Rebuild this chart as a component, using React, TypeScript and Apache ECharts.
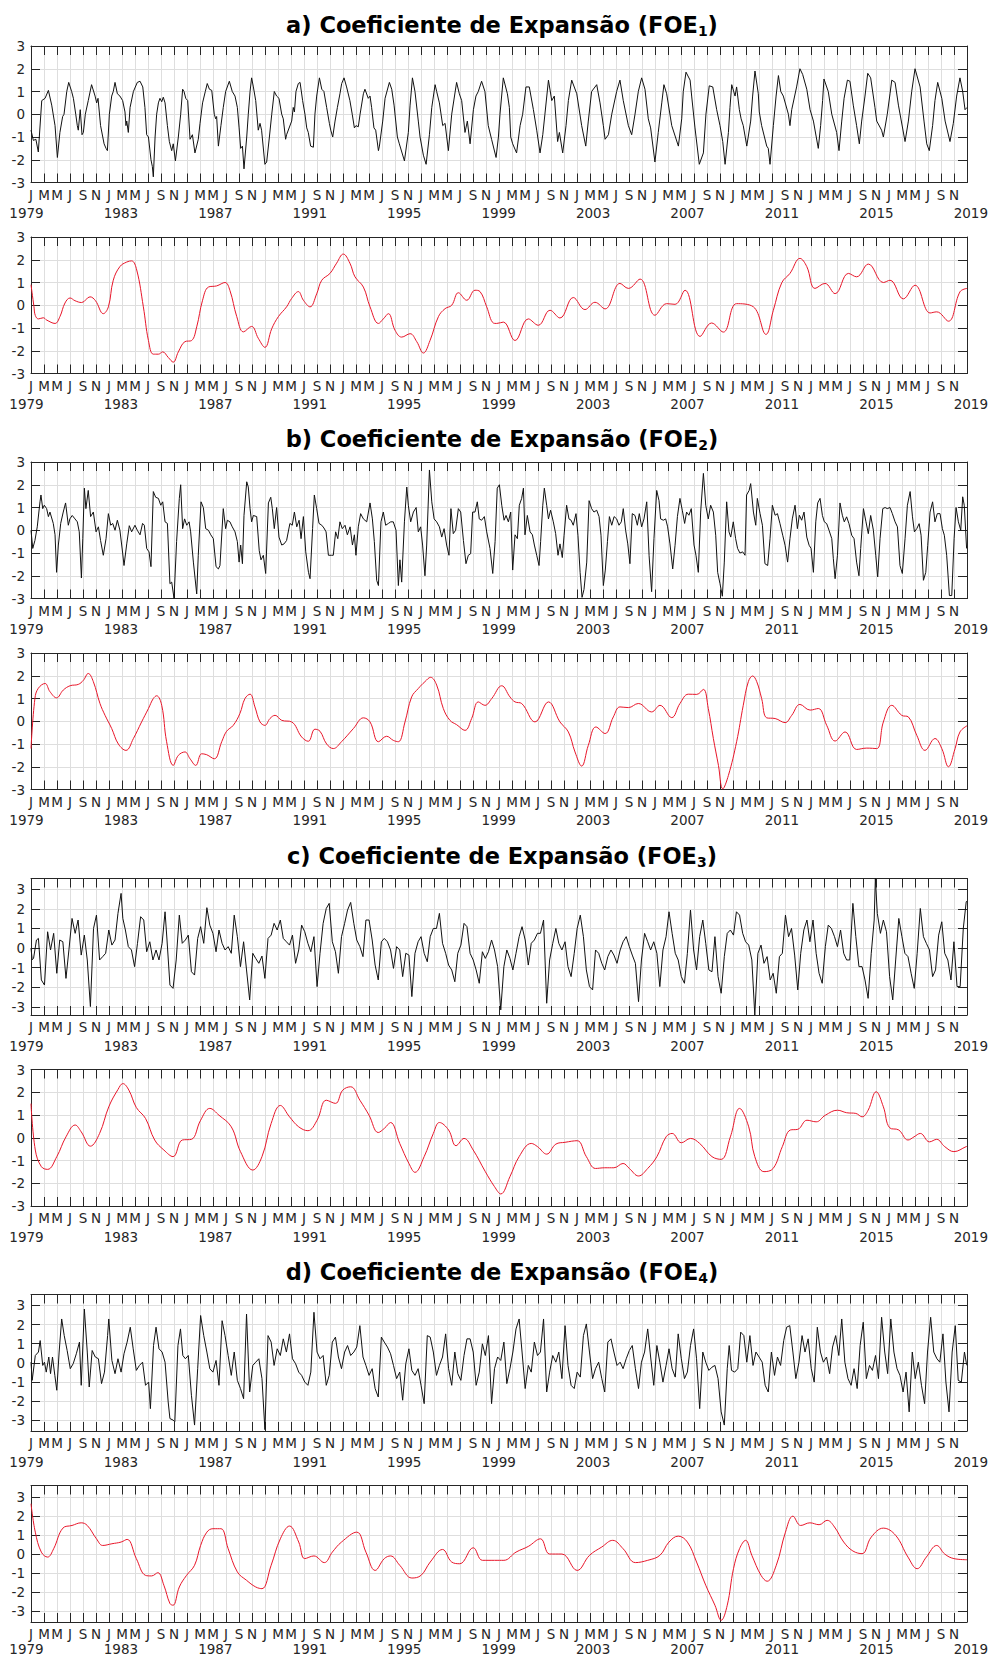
import React, { useEffect, useRef } from "react";
import * as echarts from "echarts";

// ---------- axis texts ----------
const monthLetters = ["J", "M", "M", "J", "S", "N"];
const firstYear = 1979;
const yearStep = 4;
const yearSpan = 40;
const nMonths = 480;
const nTickIntervals = 72;
const yTickValues = [-3, -2, -1, 0, 1, 2, 3];
const titleLetters = ["a", "b", "c", "d"];
const titleMain = "Coeficiente de Expansão (FOE";

// ---------- data: [month index since Jan 1979, value] ----------
const aBlack = [[0,-0.7],[1.2,-1.15],[2.5,-1.1],[3.75,-1.66],[5.5,0.6],[7.2,0.7],[8.9,1.05],[10.6,0.4],[12.3,-0.5],[13.5,-1.9],[14.8,-0.8],[16.2,-0.1],[16.9,0],[18.3,1.0],[19.3,1.4],[20.8,1.0],[21.7,0.7],[22.9,0],[23.7,-0.5],[24.2,-0.7],[25.2,0.2],[26.1,-0.9],[26.8,-0.8],[27.8,0],[29.3,0.6],[31,1.3],[32.8,0.8],[33.6,0.5],[34.3,0.7],[35.6,-0.5],[37.4,-1.3],[38.4,-1.5],[39.1,-1.6],[40.1,0],[41.3,0.8],[42.1,1.0],[43,1.4],[44.2,0.9],[45.5,0.8],[46.9,0.6],[48.1,0.1],[48.6,-0.5],[49,-0.3],[49.8,-0.8],[50.7,0.3],[52.4,1.0],[54.4,1.4],[55.8,1.45],[57.2,1.2],[58.3,0.3],[59.2,-0.9],[60.1,-1.0],[61.4,-2.0],[62.1,-2.3],[62.6,-2.75],[63.5,-1.0],[64.3,0],[65.2,0.5],[66,0.7],[66.9,0.55],[67.7,0.75],[68.6,0.5],[69.8,-0.5],[70.8,-1.2],[72,-1.6],[72.8,-1.3],[73.9,-2.05],[75.4,-1.0],[76.6,0],[77.6,1.1],[78.3,1.0],[79.2,0.7],[80.2,0.6],[81.4,-1.1],[82.6,-0.9],[83.9,-1.7],[85.6,-1.1],[86.5,-0.4],[87.8,0.5],[89.2,1.0],[90.2,1.35],[91.3,1.1],[92.5,1.05],[93.8,0],[94.5,-0.2],[95,-0.1],[95.9,-1.4],[97.2,-0.5],[98.4,0.3],[99.6,1.0],[101.5,1.45],[103,1.0],[104.4,0.8],[105.6,0.3],[106.5,-0.6],[107.3,-1.5],[108.2,-1.4],[109,-2.4],[110.4,-1.0],[111.2,0],[112.1,1.0],[112.9,1.6],[113.8,1.2],[115,0.6],[116.3,-0.7],[117.2,-0.4],[118,-0.7],[119.7,-2.2],[120.6,-2.1],[122,-1.0],[123.2,0],[124.5,1.0],[125.7,0.8],[126.9,0.7],[128.3,0],[129.1,-0.2],[130.3,-1.1],[130.8,-0.9],[133.4,-0.3],[134.2,0.3],[134.8,0.1],[135.6,1.0],[136.8,1.35],[137.7,1.4],[139,0.6],[140.2,0],[141.1,-0.6],[141.9,-0.8],[143.1,-1.4],[144.5,-1.45],[145.3,0],[146.2,0.8],[147.6,1.6],[148.8,1.1],[149.9,1.0],[151.3,0.3],[152.7,-0.4],[153.4,-0.7],[154.4,-1.0],[155.6,-0.3],[156.8,0.3],[158.1,0.9],[159,1.35],[160.2,1.6],[161.5,1.2],[163.2,0.6],[164.4,0],[165.5,-0.6],[166.3,-0.5],[167.5,-0.55],[168.4,0],[170.1,0.9],[170.9,1.1],[172.6,0.7],[173.5,0.8],[174.3,0.3],[175.5,-0.6],[176.4,-0.7],[177.8,-1.6],[178.3,-1.4],[180,-0.3],[181.2,0.7],[183.4,1.4],[184.6,1.1],[185.8,0.4],[187.5,-1.0],[188.5,-1.3],[191.1,-2.05],[193.1,-0.8],[194,0.4],[195.2,1.6],[196.5,1.0],[198.2,-0.3],[199.1,-1.0],[200.8,-1.8],[202.2,-2.2],[203.9,-0.9],[205.1,0.3],[206.8,1.3],[207.6,1.0],[209,0.5],[210.7,-0.5],[211.9,-0.4],[213.6,-1.6],[215.3,0],[217.8,1.4],[219.2,0.9],[220.4,0.6],[222.1,-0.8],[223.3,-0.3],[224.7,-1.3],[226.4,0.2],[227.7,0.8],[228.9,1.0],[230.6,1.45],[232.3,1.0],[234,-0.5],[235.7,-1.1],[238,-1.9],[239.2,-1.0],[240,0],[241.7,1.6],[243.8,0.9],[244.8,0.3],[245.5,-1.0],[246.5,-1.3],[248.5,-1.7],[250.3,-0.5],[251.6,0],[253.3,1.2],[255,1.2],[257.1,0.2],[258.8,-0.7],[260.5,-1.7],[261.9,-0.9],[263,0],[264.8,1.5],[266.5,0.6],[267.8,0.8],[269.5,-1.2],[270.4,-0.8],[272.1,-1.7],[273.8,-0.5],[275,0.6],[276.7,1.5],[279.3,0.9],[281.8,-0.5],[283.9,-1.4],[285.2,-0.3],[286.9,1.0],[289.5,1.3],[291.2,0.5],[292.9,-0.5],[293.8,-1.1],[295.5,-0.9],[297.2,0],[299.7,1.0],[301.4,1.5],[303.1,0.6],[305.7,-0.5],[307.4,-0.9],[309.1,0],[310.8,1.0],[312.5,1.6],[314.2,1.1],[315.9,-0.2],[317.1,-0.6],[319.3,-2.1],[321,-0.8],[322.8,0.5],[323.9,1.3],[325.3,0.9],[327.9,-0.5],[331.3,-1.4],[333,-0.2],[333.8,1.0],[335.2,1.85],[337.3,1.5],[338.1,0.8],[339.8,-0.6],[342,-2.2],[344.1,-1.7],[345.4,0],[347.1,1.25],[348.9,1.2],[350.9,0.2],[352.6,-0.5],[354,-1.2],[355.2,-2.2],[356.9,-0.8],[357.7,0.3],[358.6,1.3],[360.3,0.8],[361.1,1.2],[362.5,0.2],[363.4,-0.2],[364.5,-0.5],[366.3,-1.4],[368.3,-0.3],[369.3,0.8],[370.5,1.9],[372.2,0.9],[372.7,0.1],[373.9,-0.5],[376.5,-1.4],[377.3,-1.5],[378.2,-2.2],[379.9,-0.5],[381.3,0.8],[382.5,1.7],[383.7,1.0],[385,0.8],[387.6,0],[388.4,-0.5],[389.3,0.2],[391.8,1.2],[393.5,2.0],[394.9,1.75],[397,1.1],[398.7,0.2],[400.4,-0.3],[402.9,-1.5],[404.1,-0.5],[405.1,0.6],[405.8,1.55],[408,1.0],[409.8,0],[412.3,-0.8],[413.5,-1.6],[414.9,-0.3],[416.1,0.7],[417.8,1.5],[419.1,1.45],[420.8,0.4],[422.5,-0.5],[423.9,-1.3],[425.1,-0.3],[426.8,0.8],[428.2,1.8],[429.7,1.6],[431.9,0.3],[432.8,-0.3],[435.3,-0.7],[436.2,-1.0],[438.2,0],[439.6,0.9],[440.5,1.5],[442.2,1.4],[443.9,0.4],[447.3,-1.2],[449,-0.3],[450.7,1.0],[452.4,2.0],[455,1.2],[457,-0.3],[458.4,-1.3],[459.7,-1.6],[461.4,-0.5],[462.6,0.6],[464,1.4],[466.1,0.7],[467.8,-0.3],[470.3,-1.2],[472,-0.4],[473.7,0.8],[475.4,1.6],[476.8,1.0],[478,0.2],[479,0.3]];

const aRed = [[0,0.9],[1.5,-0.05],[2.2,-0.45],[3.8,-0.6],[6.3,-0.55],[8,-0.65],[12.3,-0.8],[14.8,-0.5],[17.4,0.1],[20,0.32],[22.5,0.2],[25.9,0.12],[30.2,0.37],[33,0.2],[37,-0.37],[39.6,-0.07],[42.1,1.1],[45.5,1.7],[49,1.9],[51.5,1.95],[54.1,1.55],[57.5,-0.07],[60.1,-1.55],[62.6,-2.15],[65.2,-2.15],[67.4,-2.05],[70.3,-2.3],[72.8,-2.5],[75.4,-2.05],[78.8,-1.6],[82.2,-1.55],[84.8,-0.95],[87.8,0.22],[90.8,0.8],[95,0.85],[99.3,1.0],[101.8,0.65],[105.3,-0.5],[108.7,-1.17],[112.9,-0.93],[116.3,-1.45],[119.7,-1.85],[123.2,-1.03],[126.6,-0.5],[130.8,-0.07],[133.4,0.3],[136.8,0.6],[139.4,0.22],[142.8,-0.07],[146.2,0.5],[148.8,1.1],[153,1.4],[156.4,1.85],[159.8,2.25],[163.2,1.85],[165.8,1.25],[170.1,0.8],[173.5,-0.07],[177.8,-0.8],[180.3,-0.6],[182.9,-0.37],[186.3,-1.1],[189.7,-1.4],[194,-1.25],[197.4,-1.6],[200.8,-2.1],[204.2,-1.55],[208.5,-0.5],[211.9,-0.15],[215.3,0],[218.7,0.55],[223,0.22],[227.2,0.66],[229.8,0.6],[233.2,-0.07],[236.6,-0.78],[238.3,-0.8],[241.7,-0.74],[247.7,-1.55],[254.5,-0.6],[259.6,-0.88],[265.6,-0.22],[270.7,-0.56],[277.5,0.34],[283.5,-0.19],[288.6,0.13],[293.8,-0.16],[301.4,0.96],[305.7,0.74],[311.7,1.15],[319.3,-0.44],[325.3,0.07],[329.6,0.04],[334.7,0.66],[342.4,-1.37],[348.3,-0.78],[354.3,-1.18],[361.1,0.07],[369.7,-0.07],[376.1,-1.28],[379.9,-0.22],[384.2,0.99],[388.4,1.4],[393.5,2.06],[397,1.7],[401.2,0.74],[406.3,0.96],[411.5,0.51],[418.3,1.4],[422.5,1.25],[428.5,1.81],[436.2,1.0],[439.6,1.1],[446.4,0.28],[452.4,0.88],[460.1,-0.34],[463.5,-0.29],[469.5,-0.7],[475.4,0.59],[479,0.74]];

const bBlack = [[0,0],[0.9,-0.8],[2,-0.45],[3.2,0.15],[4.6,1.25],[5.1,1.55],[6,0.95],[6.8,1.1],[8,0.95],[8.9,0.6],[9.7,0.8],[11.4,0.3],[12.3,-0.2],[13.1,-1.85],[14,-0.65],[15.2,0.3],[16.5,0.8],[17.7,1.2],[19.1,0.22],[19.9,0.5],[21.1,0.65],[22.5,0.5],[23.7,0.37],[24.7,-0.07],[25.8,-2.1],[26.5,-0.37],[27.3,1.85],[28.1,0.95],[29.3,1.75],[30.5,0.6],[31.9,0.8],[33.3,-0.07],[34.5,0.15],[35.6,-0.45],[37,-1.1],[38.4,-0.37],[39.6,0.73],[40.8,0.22],[41.8,0.3],[43,0],[44.2,0.44],[45.5,0],[46.9,-1.0],[47.6,-1.55],[49,-0.6],[50.3,0.2],[51.5,-0.07],[53.2,0.22],[54.4,0],[55.8,-0.2],[57.1,0.3],[58,0.22],[59.2,-0.8],[60.4,-0.95],[61.4,-1.6],[62.6,1.7],[63.8,1.45],[65.2,1.4],[66.4,1.1],[67.4,1.25],[68.6,0.37],[69.8,0.3],[71.1,-2.35],[72,-2.28],[73.2,-3.0],[74.5,-0.5],[75.9,1.4],[76.6,2.0],[77.6,0.07],[78.6,0.5],[79.7,0.22],[80.9,0.37],[81.7,-0.07],[83.1,-1.4],[84.8,-2.8],[85.6,-1.1],[87,1.25],[88.2,1.0],[89.4,0.07],[90.8,0],[92,-0.2],[93.3,-0.37],[94.7,-1.6],[95.9,-1.7],[96.7,-1.55],[98.4,0.95],[99.6,0.07],[100.5,0.44],[101.8,0.37],[103,0.15],[104.4,-0.07],[105.6,-0.5],[106.5,-1.4],[107.3,-0.65],[108.2,-1.47],[109,0.65],[110.4,2.13],[111.2,1.9],[112.1,0.95],[112.9,0.37],[113.8,0.65],[115.5,0.6],[116.8,-0.9],[117.7,-1.3],[118.9,-1.1],[120.1,-1.9],[121.5,1.2],[122.7,1.45],[123.5,0.95],[124.5,0.07],[125.7,1.0],[126.9,-0.3],[128.3,-0.65],[129.5,-0.6],[130.8,-0.45],[132.5,0.3],[133.7,0.22],[134.8,0.8],[136,0.15],[137.2,0.44],[138.2,-0.37],[139.4,0.6],[140.6,-0.95],[142,-1.85],[142.8,-2.13],[144.1,0.07],[145,1.55],[146.2,0.95],[147.4,0.3],[148.8,0.22],[149.9,0.1],[151,-0.07],[152.2,-1.1],[153.9,-1.1],[154.7,-1.1],[155.9,-0.07],[157,-0.37],[158.1,0.37],[159.3,0.07],[160.7,0.22],[161.9,-0.2],[163.3,0.15],[164.5,-0.65],[165.5,-0.2],[166.3,-1.1],[167.5,0.15],[168.7,0.73],[170.1,0.5],[171.8,0.37],[173.5,1.2],[174.7,0.5],[175.7,-0.5],[176.9,-2.2],[177.8,-2.43],[179.1,0.37],[180.3,0.8],[181.5,0.22],[182.9,0.3],[184.1,0.37],[185.4,0.37],[186.8,0],[188,-2.43],[188.8,-1.3],[189.7,-2.28],[191.1,0.37],[192.3,1.9],[193.1,1.1],[194.3,0.37],[195.7,0.8],[197.1,1.0],[198.2,-0.07],[199.4,0.15],[200.4,-0.65],[201.6,-2.0],[202.5,-0.65],[203.9,2.65],[205.1,1.25],[206.3,0.5],[207.6,0.37],[209,0.15],[210.2,-0.3],[211.4,0.07],[212.7,-0.65],[213.9,-1.1],[214.9,0.95],[216.1,-0.15],[217.3,0],[218.7,0.95],[219.9,0.8],[221.3,-0.45],[222.6,-1.47],[223.8,-1.1],[225,-1.03],[226,0.8],[227.2,0.8],[228.4,1.25],[229.4,0.5],[230.6,0.44],[232,0.6],[233.2,-0.07],[234.9,-0.8],[236.3,-1.9],[237.5,-0.5],[238.6,1.85],[239.7,2.0],[240.9,1.1],[242.1,0.44],[243.1,0.65],[244.3,0.37],[245.5,0.8],[246.5,-1.75],[247.7,-0.2],[248.9,-0.37],[249.9,1.1],[251.1,1.4],[252,1.85],[252.8,-0.2],[254,0.65],[255.4,-0.07],[256.6,-0.2],[257.6,-0.65],[258.8,-1.1],[260,-1.55],[260.8,-0.5],[261.9,1.1],[262.7,1.85],[263.9,1.1],[264.8,0.5],[265.9,0.88],[267.3,0.37],[268.5,-0.15],[269.7,-1.1],[270.7,-0.6],[271.9,-1.2],[272.8,-0.22],[274.1,1.1],[275.3,0.5],[276.4,0.44],[277.5,0.22],[278.9,0.73],[279.9,-0.22],[281,-1.85],[282,-2.95],[283,-2.6],[284.4,-1.4],[285.6,1.3],[286.9,0.95],[288.1,0.8],[289.5,0.88],[290.7,0.6],[291.7,-0.22],[292.9,-2.43],[293.9,-1.75],[295,-0.5],[296,0.6],[297.2,0.22],[298.4,0.6],[299.7,0.5],[300.9,0.22],[302.1,0.37],[303.1,0.95],[304.3,0],[305.4,-0.6],[306.5,-1.47],[307.7,0.73],[309.1,0.65],[310.3,0.22],[311.3,0.73],[312.5,0.15],[313.7,0.5],[315.1,1.25],[316.3,-1.1],[317.6,-2.7],[318.8,-0.37],[320.2,1.75],[321.4,1.3],[322.2,0.5],[323.6,0.44],[324.8,0.5],[325.8,0.15],[327,-0.6],[328.4,-1.7],[329.6,-0.66],[330.8,0.6],[332.1,1.4],[333.3,0.88],[334.5,0.3],[335.5,0.8],[336.7,0.66],[337.9,0.95],[339.3,-0.65],[340.3,-1.1],[341.5,-1.85],[342.7,0.8],[344.1,2.5],[345.3,1.1],[346.6,0.5],[347.8,1.1],[349.2,0.8],[350.4,-0.22],[351.4,-1.85],[352.6,-2.35],[353.8,-2.9],[354.8,-1.4],[356,1.25],[357.2,-0.07],[358.1,-0.3],[359.4,0.37],[360.6,-0.37],[361.6,-0.8],[362.8,-1.0],[364.2,-0.95],[365.4,-1.1],[366.2,1.55],[367.5,1.75],[368.3,2.05],[369.7,0.8],[370.9,0.22],[371.7,1.4],[373.1,0.73],[374.3,0.22],[375.6,-1.47],[377,-1.55],[378.2,-0.37],[379.4,1.1],[380.8,0.66],[382,0.73],[383.3,0.29],[384.7,-0.22],[385.9,-0.66],[387.2,-1.4],[388.4,-0.37],[389.6,0.5],[391,1.1],[392.2,0.07],[393.2,0.66],[394.4,0.44],[395.6,0.8],[397,-0.3],[398.2,-0.66],[399.2,-0.8],[400.4,-1.85],[401.6,0.37],[402.6,1.2],[403.8,1.4],[405,0.65],[406,0.37],[407.2,0.29],[408.4,0],[409.8,-0.37],[410.6,-1.25],[411.5,-2.13],[412.7,-1.1],[414,1.2],[415.2,0.66],[416.2,0.37],[417.4,0.59],[418.6,0.29],[420,-0.22],[421.2,-0.37],[422.5,-1.4],[423.7,-2.0],[424.6,-0.8],[426,0.95],[427.3,0.37],[428.5,-0.15],[429.7,0.65],[431.1,0],[432.3,-1.1],[433.3,-2.05],[434.5,-0.37],[435.9,0.95],[437.1,1.0],[438.2,0.95],[439.6,1.0],[440.8,0.73],[442.2,0.37],[443.4,0.15],[444.7,-1.55],[445.9,-1.9],[447.3,-0.37],[448.5,1.1],[449.9,1.7],[451.1,0.59],[452.1,-0.07],[453.3,0.07],[454.5,0.29],[455.5,-0.22],[456.7,-2.2],[457.9,-1.85],[458.9,-0.66],[460.1,0.8],[461.4,1.25],[462.6,0.37],[463.8,0.73],[465.2,0.73],[466.4,0.07],[467.4,-0.22],[468.6,-1.1],[470,-2.87],[471.2,-2.87],[472.4,-0.37],[473.4,1.0],[474.6,0.37],[475.8,0],[476.8,1.47],[477.6,1.1],[478.8,-0.8]];

const bRed = [[0,-1.2],[2,1.0],[3.75,1.45],[7.2,1.66],[9.7,1.3],[13.1,1.03],[16.5,1.37],[20,1.56],[24.2,1.62],[26.8,1.8],[29.3,2.1],[31.9,1.74],[35.3,0.78],[37.9,0.26],[41.3,-0.32],[44.7,-1.0],[48.6,-1.28],[52.4,-0.76],[56.6,-0.03],[60.1,0.56],[62.6,1.0],[64.3,1.12],[66.9,0.7],[69.4,-0.9],[72.8,-1.94],[75.4,-1.5],[78.8,-1.35],[81.4,-1.65],[84.3,-1.94],[87.3,-1.43],[89.9,-1.47],[93.8,-1.65],[97.6,-0.9],[100.1,-0.44],[103.5,-0.18],[106.9,0.34],[109.5,1.0],[112.1,1.19],[114.6,0.63],[117.2,-0.03],[119.7,-0.18],[122.3,0.12],[124.9,0.26],[128.3,0.04],[133.4,-0.03],[138.5,-0.69],[141.9,-0.88],[145.3,-0.35],[147.9,-0.44],[151.3,-1.0],[154.7,-1.2],[158.9,-0.9],[165,-0.32],[170.1,0.15],[173.5,-0.03],[177.8,-0.9],[182,-0.66],[185.4,-0.84],[188,-0.9],[191.4,-0.03],[194.8,1.07],[198.2,1.44],[201.6,1.74],[204.5,1.93],[207.6,1.59],[211,0.56],[214.4,0.04],[217.8,-0.15],[222.1,-0.4],[225.5,0.12],[228.9,0.85],[232.3,0.7],[235.8,1.0],[240.9,1.56],[245.1,1.07],[247.7,0.85],[251.1,0.78],[257.9,-0.03],[264.8,0.85],[270.7,-0.03],[275,-0.47],[278.4,-1.35],[281.8,-1.97],[285.2,-1.06],[289.1,-0.25],[293.8,-0.54],[298,0.19],[301.4,0.63],[305.7,0.6],[310.8,0.78],[317.6,0.41],[321.9,0.7],[327.9,0.16],[332.1,0.78],[336.4,1.19],[340.7,1.18],[344.1,1.4],[346.6,0.56],[349.2,-0.76],[351.8,-1.94],[354,-2.97],[356.9,-2.38],[361.1,-0.9],[364.5,0.7],[367.1,1.74],[369.3,1.99],[371.4,1.74],[373.9,1.0],[376.5,0.15],[380.8,0.12],[385.9,-0.06],[389.3,0.26],[393.5,0.74],[398.7,0.49],[402.9,0.56],[407.2,-0.18],[411.5,-0.87],[416.6,-0.47],[422.5,-1.24],[427.7,-1.18],[432.8,-1.2],[436.2,-0.03],[440.5,0.7],[445.6,0.26],[449,0.19],[453.3,-0.62],[457.5,-1.28],[462.6,-0.76],[466.1,-1.2],[469.5,-2.0],[472.9,-1.2],[475.4,-0.47],[479,-0.2]];

const cBlack = [[0,0],[0.6,-0.6],[1.3,-0.53],[2.8,0.41],[3.8,0.49],[5.3,-1.63],[6.9,-1.89],[8.5,0.83],[10,-0.1],[11.6,0.75],[13.2,-1.29],[14.7,0.41],[16.3,0.32],[17.9,-1.55],[19.4,-0.1],[21,1.51],[22.6,0.75],[24.1,1.43],[25.7,-0.36],[27.3,0.66],[28.8,-0.61],[30.4,-2.99],[32,1.0],[33.5,1.68],[35.1,-0.61],[36.7,-0.44],[38.2,-0.27],[39.8,0.92],[41.4,0.15],[43,0.41],[44.5,1.77],[46.1,2.79],[47,1.51],[48.3,0.92],[49.8,0.07],[51.4,-0.1],[53,-0.95],[54.5,0.24],[56.1,1.6],[57.7,1.43],[59.2,-0.19],[60.8,0.32],[62.4,-0.61],[64,-0.1],[65.5,-0.61],[67.1,0.24],[68.6,1.85],[69.6,0.41],[71.1,-1.89],[72.7,-2.06],[74.3,-0.61],[75.9,1.68],[77.4,0.24],[79,0.41],[80.5,0.66],[82.1,-1.21],[83.7,-1.38],[85.3,0.49],[86.8,1.09],[88.4,0.24],[90,2.06],[91.5,1.17],[93.1,0.75],[94.7,-0.19],[96.2,0.92],[97.8,0.24],[99.3,-0.1],[100.9,0.07],[102.5,-0.27],[104,1.68],[105.6,0.58],[107.2,-0.95],[108.8,0.32],[110.3,-1.12],[111.9,-2.65],[113.5,-0.27],[115,-0.53],[116.6,-0.78],[118.2,-0.41],[119.7,-1.55],[121.3,0.49],[122.9,0.66],[124.4,1.26],[126,0.92],[127.6,1.43],[129.1,0.49],[130.7,0.32],[132.3,0.15],[133.8,0.66],[135.4,-0.78],[137,-0.1],[138.5,1.17],[140.1,0.83],[141.7,0.24],[143.2,-0.19],[144.8,0.58],[146.4,-1.97],[147.9,-0.27],[149.5,1.26],[151.1,2.02],[152.6,2.28],[154.2,0.32],[155.8,-0.19],[157.3,-1.29],[158.9,0.58],[160.5,1.26],[162,1.94],[163.6,2.33],[165.2,1.26],[166.7,0.41],[168.3,0.07],[169.9,-0.44],[171.4,1.43],[173,1.43],[174.6,0.41],[176.1,-0.87],[177.7,-1.63],[179.3,0.32],[180.8,0.49],[182.4,0.32],[184,-0.1],[185.5,-1.04],[187.1,0.07],[188.7,-0.1],[190.2,-1.46],[191.8,-0.27],[193.4,-0.36],[194.9,-2.48],[196.5,-0.27],[198.1,0.32],[199.6,0.58],[201.2,-0.27],[202.8,-0.7],[204.3,0.58],[205.9,1.0],[207.5,1.0],[209,1.77],[210.6,0.24],[212.2,-0.27],[213.7,-0.87],[215.3,-1.12],[216.9,-1.72],[218.4,-0.27],[220,0.15],[221.6,1.26],[223.1,1.09],[224.7,-0.27],[226.3,-0.61],[227.8,-1.12],[229.4,-1.8],[231,-0.19],[232.5,-0.53],[234.1,-0.19],[235.7,0.41],[237.2,-0.1],[238.8,-0.95],[240.4,-3.16],[242,-0.95],[243.5,-0.1],[245.1,-0.53],[246.6,-1.12],[248.2,-0.27],[249.8,0.58],[251.3,1.09],[252.9,0.41],[254.5,-0.87],[256,0.24],[257.6,0.41],[259.2,0.75],[260.7,0.75],[262.3,1.43],[263.9,-2.82],[265.4,-0.61],[267,0.24],[268.6,1.0],[270.1,0.24],[271.7,-0.1],[273.3,0.32],[274.8,-0.95],[276.4,-1.46],[278,-0.27],[279.5,1.0],[281.1,1.68],[282.7,0.58],[284.2,-1.12],[285.8,-1.97],[287.4,-2.14],[288.9,-0.1],[290.5,-0.27],[292.1,-0.78],[293.6,-1.12],[295.2,-0.44],[296.8,-0.1],[298.3,-0.36],[299.9,-0.78],[301.5,-0.1],[303,0.32],[304.6,0.58],[306.2,0.07],[307.7,-0.36],[309.3,-0.78],[310.9,-2.74],[312.4,-0.61],[314,0.75],[315.6,0.32],[317.1,-0.1],[318.7,0.32],[320.3,-0.27],[321.8,-1.97],[323.4,-0.1],[325,0.58],[326.5,1.85],[328.1,0.75],[329.7,-0.27],[331.2,-0.61],[332.8,-1.46],[334.4,-1.8],[335.9,-0.27],[337.5,1.94],[339.1,-0.1],[340.6,-1.12],[342.2,0.58],[343.8,1.43],[345.3,0.24],[346.9,-1.12],[348.5,-1.21],[350,0.58],[351.6,-1.46],[353.2,-2.31],[354.8,-0.44],[356.3,0.75],[357.9,0.92],[359.5,0.66],[361,1.85],[362.6,1.68],[364.2,0.75],[365.7,0.32],[367.3,0.15],[368.9,-0.61],[370.4,-3.42],[372,-0.27],[373.6,0.15],[375.1,-0.78],[376.7,-0.44],[378.3,-1.63],[379.8,-1.29],[381.4,-2.31],[383,-0.44],[384.5,-0.27],[386.1,1.68],[387.7,0.58],[389.2,1.0],[390.8,-0.36],[392.4,-2.14],[393.9,-0.27],[395.5,0.92],[397.1,1.43],[398.6,0.32],[400.2,1.43],[401.8,-0.27],[403.3,-1.29],[404.9,-1.8],[406.5,0.07],[408,1.17],[409.6,1.0],[411.2,0.58],[412.7,0.07],[414.3,0.92],[415.9,-0.27],[417.4,-0.61],[419,-0.61],[420.6,2.28],[422.1,0.58],[423.7,-0.95],[425.3,-0.95],[426.8,-1.63],[428.4,-2.57],[430,-0.27],[431.5,1.43],[432.1,3.55],[433.1,1.77],[434.7,0.75],[436.2,1.43],[437.8,0.83],[439.4,-1.46],[441,-2.65],[442.5,-0.61],[444.1,1.51],[445.7,0.58],[447.2,-0.27],[448.8,-0.44],[450.4,-1.29],[452,-2.06],[453.5,-0.27],[455.1,2.02],[456.7,0.58],[458.2,0.24],[459.8,-0.1],[461.4,-1.46],[462.9,-1.12],[464.5,0.66],[466.1,1.34],[467.6,-0.27],[469.2,-0.61],[470.8,-1.63],[472.3,0.32],[473.9,-1.97],[475.5,-1.97],[477.1,1.0],[478.6,2.36],[479,2.4]];

const cRed = [[0,1.5],[2.2,-0.54],[5.3,-1.27],[8.5,-1.39],[13.2,-0.83],[17.9,0.04],[22.6,0.56],[25.7,0.26],[30.4,-0.37],[35.1,0.19],[39.8,1.36],[44.5,2.12],[47,2.38],[50.1,2.09],[53.9,1.33],[58.6,0.85],[63.3,-0.1],[68,-0.54],[72.7,-0.83],[77.4,-0.1],[82.1,-0.07],[86.8,0.77],[91.5,1.29],[96.2,0.99],[102.5,0.48],[107.2,-0.61],[113.5,-1.42],[118.2,-0.83],[122.9,0.63],[127.6,1.42],[132.3,0.92],[137,0.48],[141.7,0.31],[146.4,0.77],[151.1,1.65],[155.8,1.51],[159.5,2.09],[163.6,2.24],[168.3,1.65],[173,0.99],[177.7,0.23],[180.8,0.41],[184,0.67],[188.7,-0.25],[193.4,-1.13],[196.5,-1.52],[201.2,-0.83],[205.9,0.19],[209,0.67],[213.7,0.34],[217.5,-0.35],[221.6,-0.03],[226.3,-0.54],[232.5,-1.49],[237.2,-2.15],[240.4,-2.47],[245.1,-1.71],[249.8,-0.83],[256,-0.25],[259.2,-0.39],[263.9,-0.72],[268.6,-0.28],[273.3,-0.2],[279.5,-0.13],[284.2,-0.83],[288.9,-1.35],[293.6,-1.32],[298.3,-1.32],[303,-1.13],[306.2,-1.35],[310.9,-1.68],[315.6,-1.35],[320.3,-0.83],[325,0.04],[328.1,0.19],[332.8,-0.22],[337.5,-0.03],[342.2,-0.25],[348.5,-0.83],[353.2,-0.95],[357.9,0.04],[362.6,1.29],[367.3,0.48],[370.4,-0.83],[375.1,-1.49],[379.8,-1.35],[384.5,-0.39],[388.6,0.34],[392.4,0.37],[397.1,0.77],[401.8,0.7],[406.5,0.99],[412.7,1.21],[417.4,1.1],[422.1,1.07],[425.3,0.92],[428.4,1.21],[432.5,2.02],[436.2,1.36],[439.4,0.44],[444.1,0.34],[448.8,-0.1],[451.9,0.04],[455.1,0.19],[459.8,-0.18],[463.5,-0.07],[467.6,-0.39],[472.3,-0.61],[478.6,-0.39],[479,-0.38]];

const dBlack = [[0,0.03],[0.6,-0.92],[2.2,0.38],[3.8,0.56],[4.7,1.16],[6,-0.14],[6.9,0.03],[7.8,-0.49],[9.1,0.3],[10,-0.57],[11,0.3],[12.2,-0.66],[13.2,-1.44],[14.4,0.56],[15.7,2.29],[17,1.42],[18.5,0.64],[20.1,-0.31],[21.6,-0.05],[23.2,0.47],[24.8,1.08],[25.7,-1.18],[27.3,2.81],[28.8,0.56],[29.8,-1.27],[31.3,0.64],[32.9,0.3],[34.5,0.21],[36.1,-1.09],[37.6,-0.49],[39.2,1.42],[39.8,2.29],[41.4,0.12],[43,-0.57],[44.5,0.21],[46.1,-0.49],[47.6,0.47],[49.2,1.08],[50.8,1.86],[52.3,0.73],[53.9,-0.4],[55.5,-0.14],[57.1,0.03],[58.6,-1.18],[60.2,-1.01],[61.1,-2.4],[62.7,0.9],[64,1.86],[65.5,0.73],[67.1,0.56],[68.6,0.03],[70.2,-2.05],[71.1,-2.92],[72.7,-3.0],[73.6,-3.09],[75.2,0.9],[76.5,1.77],[77.7,0.38],[79,0.21],[80.5,0.38],[82.1,-1.7],[83.7,-3.26],[85.3,-0.31],[86.8,2.47],[88.4,1.42],[90,0.56],[91.5,-0.31],[93.1,-0.49],[94.7,0.12],[96.2,-1.18],[97.8,2.2],[99.3,1.42],[100.9,0.38],[102.5,-0.66],[104,0.56],[105.6,-0.92],[107.2,-1.35],[108.8,-1.88],[110.3,2.55],[111.9,-1.53],[113.5,-0.14],[115,0.03],[116.6,0.21],[118.2,-0.83],[119.7,-3.5],[121.3,1.42],[122.9,1.08],[124.4,-0.14],[126,0.73],[127.6,0.38],[129.1,1.25],[130.7,0.56],[132.3,1.51],[133.8,0.21],[135.4,-0.05],[137,-0.49],[138.5,-0.66],[140.1,-1.01],[141.7,-1.18],[143.2,-0.49],[144.8,2.64],[146.4,0.56],[147.9,0.21],[149.5,0.38],[151.1,-1.18],[152.6,-0.66],[154.2,1.08],[155.8,1.34],[157.3,0.3],[158.9,-0.31],[160.5,0.56],[162,0.9],[163.6,0.38],[165.2,0.56],[166.7,0.82],[168.3,1.94],[169.9,0.3],[171.4,-0.14],[173,-0.66],[174.6,-0.31],[176.1,-1.35],[177.7,-1.79],[179.3,1.34],[180.8,1.08],[182.4,0.82],[184,0.47],[185.5,-0.14],[187.1,-0.83],[188.7,-0.49],[190.2,-1.96],[191.8,-0.05],[193.4,0.73],[194.9,-0.4],[196.5,-0.66],[198.1,-0.31],[199.6,-1.18],[201.2,-2.14],[202.8,1.42],[204.3,1.34],[205.9,0.56],[207.5,-0.66],[209,-0.14],[210.6,0.3],[212.2,1.51],[213.7,-0.31],[215.3,-1.18],[216.9,0.56],[218.4,-0.57],[220,-0.92],[221.6,0.38],[223.1,1.25],[224.7,1.25],[226.3,0.56],[227.8,-1.18],[229.4,-0.49],[231,0.99],[232.5,0.38],[234.1,1.42],[235.7,-2.14],[237.2,-0.31],[238.8,0.3],[240.4,0.12],[242,1.08],[243.5,-1.09],[245.1,-0.31],[246.6,0.56],[248.2,1.77],[249.8,2.29],[251.3,0.56],[252.9,-1.35],[254.5,-0.14],[256,-0.49],[257.6,1.08],[259.2,0.38],[260.7,0.56],[262.3,2.29],[263.9,-1.53],[265.4,-0.49],[267,0.38],[268.6,0.03],[270.1,0.56],[271.7,-0.83],[273.3,1.94],[274.8,-0.14],[276.4,-1.18],[278,-1.35],[279.5,-0.49],[281.1,-0.75],[282.7,1.42],[284.2,2.03],[285.8,0.56],[287.4,-0.83],[288.9,-0.31],[290.5,0.03],[292.1,-0.83],[293.6,-1.53],[295.2,1.08],[296.8,1.25],[298.3,0.56],[299.9,-0.14],[301.5,0.03],[303,-0.31],[304.6,0.21],[306.2,0.64],[307.7,0.9],[309.3,-0.31],[310.9,-1.35],[312.4,0.03],[314,0.56],[315.6,1.77],[317.1,0.3],[318.7,-1.18],[320.3,0.9],[321.8,0.03],[323.4,-1.01],[325,-0.14],[326.5,0.73],[328.1,-0.31],[329.7,-0.75],[331.2,1.51],[332.8,0.21],[334.4,-0.83],[335.9,-0.49],[337.5,0.9],[339.1,1.77],[340.6,0.21],[342.2,-2.4],[343.8,0.56],[345.3,0.03],[346.9,-0.4],[348.5,-0.23],[350,-0.14],[351.6,-0.83],[353.2,-2.57],[354.8,-3.26],[356.3,-0.31],[357.3,0.9],[358.5,-0.4],[360.1,-0.49],[361.7,-0.31],[363.2,1.6],[364.8,1.42],[366.3,0.03],[367.9,1.42],[369.5,-0.14],[371,0.56],[372.6,0.3],[374.2,0.03],[375.7,-1.18],[377.3,-1.53],[378.9,0.56],[380.5,-0.66],[382,0.3],[383.6,-0.14],[385.2,1.16],[386.7,1.86],[388.3,1.94],[389.9,0.56],[391.4,-0.83],[393,0.03],[394.6,1.42],[396.1,0.56],[397.7,1.25],[399.3,-0.31],[400.8,-1.01],[402.4,1.86],[404,0.56],[405.5,0.03],[407.1,0.3],[408.7,-0.57],[410.2,0.82],[411.8,1.42],[413.4,0.38],[414.9,2.29],[416.5,0.03],[418.1,-0.83],[419.7,-1.18],[421.2,-0.31],[422.8,-1.35],[424.3,0.9],[425.9,2.12],[427.5,-0.83],[429.1,-0.14],[430.6,-0.4],[432.2,0.38],[433.7,-0.83],[435.3,2.38],[436.9,0.56],[438.4,-0.57],[440,2.29],[441.6,0.56],[443.2,-0.31],[444.7,-0.66],[446.3,-1.53],[447.8,-0.49],[449.4,-2.57],[451,0.56],[452.5,-0.83],[454.1,0.03],[455.7,-1.18],[457.3,-2.14],[458.8,0.56],[460.4,2.38],[462,0.56],[463.6,0.21],[465.1,0.03],[466.7,1.51],[468.2,-1.01],[469.8,-2.57],[471.4,0.56],[473,1.94],[474.5,-0.92],[476.1,-1.01],[477.7,0.56],[478.6,0.03],[479,-0.14]];

const dRed = [[0,2.64],[2.2,1.15],[5.3,0.1],[8.5,-0.16],[11.6,0.28],[16.3,1.36],[21,1.5],[25.7,1.64],[28.8,1.5],[33.5,0.8],[36.7,0.45],[41.4,0.54],[46.1,0.63],[49.2,0.77],[53.9,-0.24],[58.6,-1.12],[61.7,-1.15],[64.9,-0.98],[68,-1.64],[71.1,-2.6],[72.7,-2.69],[75.9,-1.73],[79.6,-1.12],[83.7,-0.59],[86.8,0.45],[90,1.15],[93.1,1.33],[97.2,1.33],[100.9,0.28],[105.6,-0.94],[110.3,-1.38],[115,-1.73],[118.2,-1.82],[122.9,-0.59],[127.6,0.8],[132.3,1.47],[137,0.63],[140.1,-0.24],[144.8,-0.1],[150.1,-0.45],[154.2,0.1],[158.9,0.63],[166.7,1.15],[171.4,0.1],[176.1,-0.86],[180.8,-0.24],[184,-0.1],[188.7,-0.59],[194.9,-1.26],[199.6,-1.12],[204.3,-0.42],[210.6,0.24],[215.3,-0.42],[219.4,-0.51],[226.3,0.33],[231,-0.33],[237.2,-0.33],[242,-0.33],[248.2,0.1],[254.5,0.4],[260.7,0.8],[265.4,0],[271.7,0],[279.5,-0.86],[285.8,-0.07],[292.1,0.37],[297.7,0.72],[303,0.28],[309.3,-0.45],[315.6,-0.33],[321.8,-0.07],[326.5,0.63],[331.2,0.94],[335.9,0.63],[340.6,-0.42],[345.3,-1.64],[350,-2.69],[353.2,-3.48],[356.3,-2.69],[359.5,-0.77],[362.6,0.28],[365.7,0.72],[368.9,-0.07],[373.6,-1.12],[376.7,-1.43],[381.4,-0.59],[386.1,1.15],[389.9,1.99],[393.9,1.5],[398.6,1.64],[403.3,1.54],[407.4,1.77],[411.2,1.42],[415.9,0.63],[420.6,0.16],[425.3,0.02],[430,0.89],[436.2,1.36],[442.5,0.98],[448.8,-0.16],[453.5,-0.77],[458.2,-0.16],[463.5,0.45],[467.6,0],[472.3,-0.24],[479,-0.3]];

// ---------- styling / layout ----------
const FONT = "DejaVu Sans";
const AXIS_COLOR = "#262626";
const GRID_COLOR = "#dedede";
const BLACK = "#111111";
const RED = "#e8162a";
const TICK_FONT = 13.5;
const PLOT_LEFT = 31;
const PLOT_WIDTH = 936;
const YEAR_LEFT = 26.5;
const YEAR_WIDTH = 944.7;
const PANEL_H = 136.5;
const PANEL_TOPS = [46, 237, 462, 653, 878.5, 1069.5, 1294.5, 1485.5];
const TITLE_OFFSETS = [34, 36, 36, 36];

const panels = [
  { data: aBlack, color: BLACK, smooth: false, range: [-3, 3] },
  { data: aRed, color: RED, smooth: 0.4, range: [-3, 3] },
  { data: bBlack, color: BLACK, smooth: false, range: [-3, 3] },
  { data: bRed, color: RED, smooth: 0.4, range: [-3, 3] },
  { data: cBlack, color: BLACK, smooth: false, range: [-3.42, 3.55] },
  { data: cRed, color: RED, smooth: 0.4, range: [-3, 3] },
  { data: dBlack, color: BLACK, smooth: false, range: [-3.57, 3.57] },
  { data: dRed, color: RED, smooth: 0.4, range: [-3.57, 3.6] },
];

function buildOption() {
  const grid: any[] = [];
  const xAxis: any[] = [];
  const yAxis: any[] = [];
  const series: any[] = [];
  const title: any[] = [];
  const labelStyle = { color: AXIS_COLOR, fontSize: TICK_FONT, fontFamily: FONT };
  const lineStyle = { color: AXIS_COLOR, width: 1 };

  panels.forEach((p, i) => {
    const top = PANEL_TOPS[i];
    const g = 2 * i;
    grid.push({ left: PLOT_LEFT, top, width: PLOT_WIDTH, height: PANEL_H });
    grid.push({ left: YEAR_LEFT, top, width: YEAR_WIDTH, height: PANEL_H });

    xAxis.push({
      gridIndex: g, type: "value", min: 0, max: nTickIntervals, interval: 1, position: "bottom",
      axisLine: { show: true, onZero: false, lineStyle },
      axisTick: { show: true, inside: true, length: 9, lineStyle },
      axisLabel: {
        show: true, margin: 5, ...labelStyle,
        formatter: (v: number) => (v >= nTickIntervals ? "" : monthLetters[Math.round(v) % 6]),
      },
      splitLine: { show: true, lineStyle: { color: GRID_COLOR, width: 1 } },
    });
    xAxis.push({
      gridIndex: g, type: "value", min: 0, max: nTickIntervals, interval: 1, position: "top",
      axisLine: { show: true, onZero: false, lineStyle },
      axisTick: { show: true, inside: true, length: 9, lineStyle },
      axisLabel: { show: false },
      splitLine: { show: false },
    });
    xAxis.push({
      gridIndex: g + 1, type: "value", min: 0, max: yearSpan, interval: yearStep, position: "bottom",
      axisLine: { show: false }, axisTick: { show: false },
      axisLabel: { show: true, margin: 23.5, ...labelStyle, formatter: (v: number) => String(firstYear + v) },
      splitLine: { show: false },
    });

    yAxis.push({
      gridIndex: g, type: "value", min: p.range[0], max: p.range[1], position: "left",
      axisLine: { show: true, onZero: false, lineStyle },
      axisTick: { show: true, inside: true, length: 9, lineStyle, customValues: yTickValues },
      axisLabel: { show: true, margin: 6, ...labelStyle, customValues: yTickValues },
      splitLine: { show: true, lineStyle: { color: GRID_COLOR, width: 1 } },
    });
    yAxis.push({
      gridIndex: g, type: "value", min: p.range[0], max: p.range[1], position: "right",
      axisLine: { show: true, onZero: false, lineStyle },
      axisTick: { show: true, inside: true, length: 9, lineStyle, customValues: yTickValues },
      axisLabel: { show: false, customValues: yTickValues },
      splitLine: { show: false },
    });
    yAxis.push({ gridIndex: g + 1, type: "value", min: 0, max: 1, show: false });

    series.push({
      type: "line",
      xAxisIndex: 3 * i,
      yAxisIndex: 3 * i,
      data: p.data.map(([m, v]) => [(m * nTickIntervals) / (nMonths - 1), v]),
      showSymbol: false,
      symbol: "none",
      smooth: p.smooth,
      lineStyle: { color: p.color, width: 1 },
      silent: true,
      z: 3,
    });
  });

  titleLetters.forEach((letter, k) => {
    title.push({
      text: `{m|${letter}) ${titleMain}}{s|${k + 1}}{m|)}`,
      left: 502,
      textAlign: "center",
      top: PANEL_TOPS[2 * k] - TITLE_OFFSETS[k],
      padding: 0,
      textStyle: {
        rich: {
          m: { fontSize: 22.5, fontWeight: "bold", fontFamily: FONT, color: "#000", lineHeight: 26 },
          s: { fontSize: 14, fontWeight: "bold", fontFamily: FONT, color: "#000", lineHeight: 14, verticalAlign: "bottom" },
        },
      },
    });
  });

  return { animation: false, backgroundColor: "#ffffff", title, grid, xAxis, yAxis, series };
}

export default function App() {
  const ref = useRef<HTMLDivElement>(null);
  useEffect(() => {
    document.body.style.margin = "0";
    if (!ref.current) return;
    const chart = echarts.init(ref.current, undefined, { renderer: "svg" });
    chart.setOption(buildOption());
    return () => chart.dispose();
  }, []);
  return <div ref={ref} style={{ width: 991, height: 1656 }} />;
}
